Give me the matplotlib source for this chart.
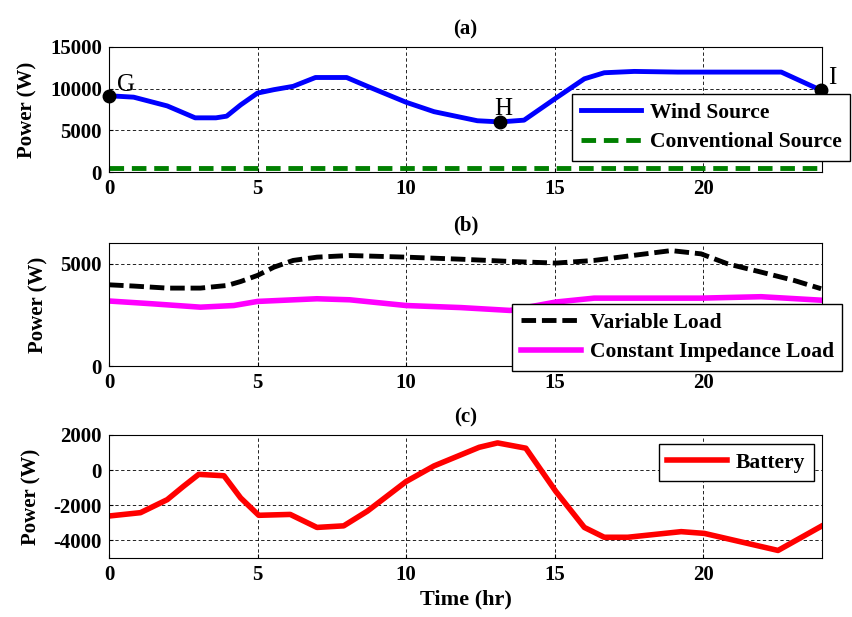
import numpy as np
import matplotlib
matplotlib.use('Agg')
from matplotlib import pyplot as plt

plt.rcParams['font.family'] = ['Liberation Serif', 'DejaVu Serif']
plt.rcParams['font.weight'] = 'bold'
plt.rcParams['axes.unicode_minus'] = False

# (a) sources
t_wind = [0, 0.83, 1.96, 2.9, 3.6, 3.96, 4.43, 5.0, 5.55, 6.2, 6.95, 8.0, 8.7, 10.0,
          10.94, 12.4, 13.17, 13.97, 15.04, 16.0, 16.67, 17.68, 19.14, 22.63, 23.97]
p_wind = [9150, 8980, 7930, 6500, 6500, 6700, 8050, 9470, 9880, 10280, 11340, 11340,
          10280, 8370, 7240, 6150, 6010, 6220, 8860, 11180, 11910, 12070, 11990, 11990, 9800]
t_conv = [0, 24]
p_conv = [500, 500]

# marked points
pt_names = ['G', 'H', 'I']
pt_t = [0, 13.17, 23.97]
pt_p = [9150, 6010, 9800]

# (b) loads
t_var = [0, 0.83, 1.96, 3.08, 3.98, 4.43, 5.0, 5.55, 6.2, 7.0, 8.1, 10.0, 11.84, 13.5,
         15.04, 16.33, 17.46, 18.92, 19.93, 20.83, 21.95, 23.07, 23.97]
p_var = [3960, 3900, 3800, 3800, 3930, 4120, 4420, 4820, 5150, 5310, 5390, 5310, 5210,
         5100, 5020, 5150, 5360, 5630, 5470, 4980, 4580, 4170, 3770]
t_const = [0, 1.4, 3.08, 4.2, 5.0, 7.0, 8.1, 10.0, 11.84, 13.5, 15.04, 16.33, 19.93, 21.95, 23.97]
p_const = [3170, 3040, 2870, 2950, 3150, 3280, 3230, 2950, 2850, 2710, 3120, 3310, 3310, 3380, 3210]

# (c) battery
t_bat = [0, 1.06, 1.96, 2.5, 3.02, 3.87, 4.43, 5.04, 6.1, 7.0, 7.9, 8.7, 10.0, 10.94,
         12.46, 13.08, 14.03, 15.04, 16.0, 16.67, 17.46, 19.26, 20.04, 22.52, 24.0]
p_bat = [-2610, -2420, -1680, -930, -240, -320, -1580, -2570, -2520, -3260, -3170, -2330,
         -650, 240, 1300, 1550, 1250, -1210, -3260, -3820, -3820, -3500, -3600, -4570, -3170]

fig = plt.figure(figsize=(8.52, 6.17), dpi=100)
W, H = 852.0, 617.0
def box(l, t, r, b):
    return [l / W, 1 - b / H, (r - l) / W, (b - t) / H]

ax1 = fig.add_axes(box(109, 47, 822, 172))
ax2 = fig.add_axes(box(109, 243, 822, 366))
ax3 = fig.add_axes(box(109, 435, 822, 558))

def style(ax, title):
    ax.set_xlim(0, 24)
    ax.set_xticks([0, 5, 10, 15, 20])
    ax.grid(True, color='black', linestyle=(0, (4, 3)), linewidth=0.6)
    ax.tick_params(direction='in', labelsize=15, length=3, pad=5)
    for lab in ax.get_xticklabels() + ax.get_yticklabels():
        lab.set_fontweight('bold')
    ax.set_ylabel('Power (W)', fontsize=15, fontweight='bold', labelpad=9)
    ax.set_title(title, fontsize=15, fontweight='bold', pad=9)
    for s in ax.spines.values():
        s.set_linewidth(0.8)

leg_kw = dict(frameon=True, fancybox=False, edgecolor='black', framealpha=1,
              prop={'size': 15.5, 'weight': 'bold'}, handlelength=2.8,
              borderpad=0.4, labelspacing=0.45, handletextpad=0.4, borderaxespad=0)

# panel (a)
ax1.plot(t_wind, p_wind, color='#0000ff', linewidth=3.5, label='Wind Source')
ax1.plot(t_conv, p_conv, color='#008000', linewidth=3.5, linestyle=(0, (3, 1.6)),
         label='Conventional Source')
ax1.plot(pt_t, pt_p, 'o', color='black', markersize=9, clip_on=False, zorder=5)
ax1.text(0.27, 9700, 'G', fontsize=18, fontweight='normal')
ax1.text(13.27, 6800, 'H', fontsize=18, fontweight='normal', ha='center')
ax1.text(24.2, 10500, 'I', fontsize=18, fontweight='normal')
ax1.set_ylim(0, 15000)
ax1.set_yticks([0, 5000, 10000, 15000])
style(ax1, '(a)')
ax1.legend(loc='upper left', bbox_to_anchor=(572 / W, 1 - 94 / H),
           bbox_transform=fig.transFigure, **leg_kw)

# panel (b)
ax2.plot(t_var, p_var, color='black', linewidth=3.5, linestyle=(0, (3, 1.2)),
         label='Variable Load')
ax2.plot(t_const, p_const, color='#ff00ff', linewidth=4, label='Constant Impedance Load')
ax2.set_ylim(0, 6000)
ax2.set_yticks([0, 5000])
style(ax2, '(b)')
ax2.legend(loc='lower left', bbox_to_anchor=(512 / W, 1 - 371 / H),
           bbox_transform=fig.transFigure, **leg_kw)

# panel (c)
ax3.plot(t_bat, p_bat, color='#ff0000', linewidth=4, label='Battery')
ax3.set_ylim(-5000, 2000)
ax3.set_yticks([-4000, -2000, 0, 2000])
style(ax3, '(c)')
ax3.set_xlabel('Time (hr)', fontsize=16, fontweight='bold', labelpad=3)
ax3.legend(loc='upper right', bbox_to_anchor=(814 / W, 1 - 444 / H),
           bbox_transform=fig.transFigure, **leg_kw)

fig.savefig('out.png', dpi=100)
